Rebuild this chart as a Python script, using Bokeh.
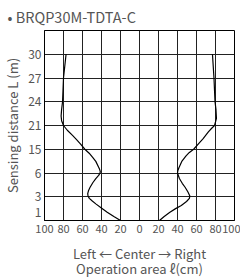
import numpy as np
from bokeh.plotting import figure
from bokeh.models import FixedTicker, Title, Range1d
from bokeh.embed import file_html
from bokeh.resources import INLINE

# ---- data ----
title_text = "• BRQP30M-TDTA-C"
x_ticks = [-100, -80, -60, -40, -20, 0, 20, 40, 60, 80, 100]
x_tick_labels = ["100", "80", "60", "40", "20", "0", "20", "40", "60", "80", "100"]
y_tick_labels = ["1", "3", "6", "15", "21", "24", "27", "30"]
# distance scale breakpoints (m) and their rows on the chart (each row = 3 units)
dist_breaks = [0, 3, 6, 15, 21, 24, 27, 30, 33]
row_breaks = [0, 3, 6, 9, 12, 15, 18, 21, 24]

left_d = [0, 0.5, 1.05, 1.6, 2.1, 2.5, 2.8, 3.1, 3.4, 3.8, 4.2, 4.8, 5.3, 5.7, 6.0, 6.6, 7.4, 8.2,
          10.4, 12.0, 13.5, 15.0, 16.3, 17.5, 18.5, 19.8, 21.0, 21.6, 22.2, 23.0, 24.0, 27.0, 30.0]
left_x = [-20, -27, -34, -40.5, -46, -50, -52.8, -54.2, -54.5, -53.6, -52, -49, -46, -43, -41.5, -41.3, -42, -43,
          -46, -49.5, -53, -57.5, -62, -66.5, -70.5, -76, -80, -82, -82.5, -82, -81, -80, -77.3]
right_d = [0, 0.5, 1.05, 1.5, 1.9, 2.4, 2.8, 3.1, 3.6, 4.2, 4.7, 5.3, 6.0, 6.8, 8.0, 10.4, 12.5, 13.8,
           15.0, 16.5, 17.7, 19.4, 20.3, 21.0, 21.9, 23.0, 24.0, 27.0, 30.0]
right_x = [21, 26, 32, 38, 44, 49.5, 52.5, 53, 51, 48, 45, 42, 40, 40.3, 41.5, 44.5, 49, 52.5,
           57, 62.5, 67, 72.5, 76, 79, 81, 80.5, 79.5, 78.4, 76.8]

def to_row(d):
    return np.interp(d, dist_breaks, row_breaks)

FONT = "Noto Sans CJK JP"
TXT = "#555555"

p = figure(frame_width=190, frame_height=190, output_backend="svg", toolbar_location=None,
           x_range=Range1d(-100, 100), y_range=Range1d(0, 24),
           min_border_left=37, min_border_right=6, min_border_top=2, min_border_bottom=0)
p.background_fill_color = None
p.border_fill_color = "white"
p.outline_line_color = "black"
p.outline_line_width = 1

# axes
p.xaxis.ticker = FixedTicker(ticks=x_ticks)
p.xaxis.major_label_overrides = {t: l for t, l in zip(x_ticks, x_tick_labels)}
y_ticks = [int(round(float(v))) for v in to_row([float(s) for s in y_tick_labels])]
p.yaxis.ticker = FixedTicker(ticks=y_ticks)
p.yaxis.major_label_overrides = {t: l for t, l in zip(y_ticks, y_tick_labels)}
for ax in (p.xaxis, p.yaxis):
    ax.major_tick_in = 0
    ax.major_tick_out = 0
    ax.minor_tick_in = 0
    ax.minor_tick_out = 0
    ax.axis_line_color = "black"
    ax.major_label_text_font = FONT
    ax.major_label_text_font_size = "12px"
    ax.major_label_text_color = TXT
    ax.major_label_standoff = 3
    ax.axis_label_text_font = FONT
    ax.axis_label_text_font_size = "13px"
    ax.axis_label_text_font_style = "normal"
    ax.axis_label_text_color = TXT
p.xaxis.major_label_text_font_size = "11px"
p.xaxis.major_label_standoff = 4
p.yaxis.axis_label = "Sensing distance L (m)"
p.yaxis.axis_label_standoff = 3
p.xaxis.axis_label = "Left ← Center → Right\nOperation area ℓ(cm)"
p.xaxis.axis_label_standoff = 8
p.xaxis.axis_label_text_line_height = 0.8

# grid
p.xgrid.ticker = FixedTicker(ticks=x_ticks[1:-1])
p.ygrid.ticker = FixedTicker(ticks=[int(v) for v in row_breaks[1:-1]])
for g in (p.xgrid, p.ygrid):
    g.grid_line_color = "#222222"
    g.grid_line_width = 1
    g.grid_line_alpha = 1

# curves
p.line(left_x, to_row(left_d), line_color="black", line_width=1.2, line_join="round")
p.line(right_x, to_row(right_d), line_color="black", line_width=1.2, line_join="round")

# title
p.add_layout(Title(text=title_text, align="left", offset=-37, text_font=FONT, text_font_size="14.5px",
                   text_font_style="normal", text_color=TXT, standoff=7), "above")

open("out.html", "w").write(file_html(p, INLINE))
